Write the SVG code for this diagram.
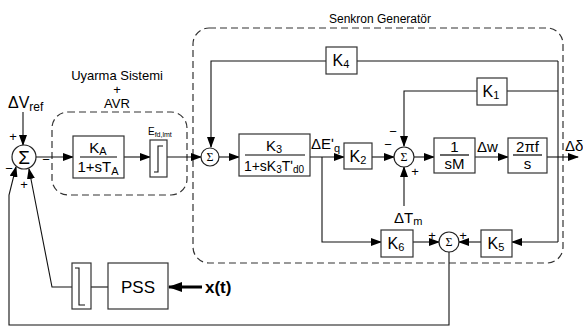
<svg xmlns="http://www.w3.org/2000/svg" width="583" height="327" viewBox="0 0 583 327">
<style>
text{font-family:"Liberation Sans",Arial,sans-serif;fill:#000}
.box{fill:#fff;stroke:#333;stroke-width:1.2}
.sum{fill:#fff;stroke:#222;stroke-width:1.2}
.ln{fill:none;stroke:#111;stroke-width:1.1}
.dash{fill:none;stroke:#333;stroke-width:1.2;stroke-dasharray:7,4}
.k{font-size:16px;text-anchor:middle}
.sg{font-size:13px;text-anchor:middle}
.sig{font-family:"Liberation Serif",serif;font-size:12px;text-anchor:middle}
</style>
<defs>
<marker id="ar" markerUnits="userSpaceOnUse" markerWidth="11" markerHeight="8" refX="10" refY="4" orient="auto">
<path d="M0,0 L11,4 L0,8 z" fill="#000"/>
</marker>
<marker id="arb" markerUnits="userSpaceOnUse" markerWidth="14" markerHeight="10" refX="13" refY="5" orient="auto">
<path d="M0,0 L14,5 L0,10 z" fill="#000"/>
</marker>
</defs>

<g id="groups">
<rect class="dash" x="52" y="112" width="135" height="83" rx="16"/>
<rect class="dash" x="193" y="28" width="370" height="235" rx="16"/>
<text x="117" y="80" font-size="13" text-anchor="middle">Uyarma Sistemi</text>
<text x="117" y="94" font-size="13" text-anchor="middle">+</text>
<text x="117" y="108" font-size="13" text-anchor="middle">AVR</text>
<text x="380" y="23" font-size="12" text-anchor="middle">Senkron Generatör</text>
</g>

<g id="connectors">
<line class="ln" x1="23" y1="112" x2="23" y2="145" marker-end="url(#ar)"/>
<line class="ln" x1="36" y1="157" x2="73" y2="157" marker-end="url(#ar)"/>
<line class="ln" x1="124" y1="157" x2="150" y2="157" marker-end="url(#ar)"/>
<line class="ln" x1="167" y1="157" x2="201" y2="157" marker-end="url(#ar)"/>
<line class="ln" x1="219" y1="157" x2="239" y2="157" marker-end="url(#ar)"/>
<line class="ln" x1="310" y1="157" x2="344" y2="157" marker-end="url(#ar)"/>
<line class="ln" x1="372" y1="157" x2="394" y2="157" marker-end="url(#ar)"/>
<line class="ln" x1="414" y1="157" x2="434" y2="157" marker-end="url(#ar)"/>
<line class="ln" x1="475" y1="157" x2="508" y2="157" marker-end="url(#ar)"/>
<line class="ln" x1="547" y1="157" x2="578" y2="157" marker-end="url(#ar)"/>
<line class="ln" x1="558" y1="61" x2="558" y2="242"/>
<line class="ln" x1="558" y1="61" x2="357" y2="61"/>
<polyline class="ln" points="326,61 211,61 211,147" marker-end="url(#ar)"/>
<line class="ln" x1="558" y1="91" x2="507" y2="91"/>
<polyline class="ln" points="477,91 404,91 404,146" marker-end="url(#ar)"/>
<line class="ln" x1="404" y1="206" x2="404" y2="167" marker-end="url(#ar)"/>
<polyline class="ln" points="322,157 322,242 381,242" marker-end="url(#ar)"/>
<line class="ln" x1="413" y1="242" x2="439" y2="242" marker-end="url(#ar)"/>
<line class="ln" x1="558" y1="242" x2="512" y2="242" marker-end="url(#ar)"/>
<line class="ln" x1="481" y1="242" x2="459" y2="242" marker-end="url(#ar)"/>
<polyline class="ln" points="449,252 449,325 9,325 9,195 16,167" marker-end="url(#ar)"/>
<polyline class="ln" points="72,287 52,287 29,169" marker-end="url(#ar)"/>
<line class="ln" x1="91" y1="287" x2="108" y2="287"/>
<line x1="202" y1="287" x2="169" y2="287" stroke="#000" stroke-width="3" marker-end="url(#arb)"/>
</g>

<g id="sum1">
<circle class="sum" cx="24" cy="157" r="12"/>
<text x="24" y="164" font-size="19" text-anchor="middle">Σ</text>
<text class="sg" x="13" y="141">+</text>
<text class="sg" x="46" y="164">−</text>
<text class="sg" x="9" y="173">−</text>
<text class="sg" x="24" y="189">+</text>
</g>
<g id="dvref">
<text x="8" y="108" font-size="16">ΔV<tspan font-size="12" dy="3">ref</tspan></text>
</g>

<g id="ka">
<rect class="box" x="73" y="136" width="51" height="42"/>
<line x1="80" y1="157" x2="117" y2="157" stroke="#000" stroke-width="1.2"/>
<text x="98" y="153" font-size="15" text-anchor="middle">K<tspan font-size="11" dy="2">A</tspan></text>
<text x="98" y="172" font-size="15" text-anchor="middle">1+sT<tspan font-size="11" dy="3">A</tspan></text>
</g>

<g id="lim1">
<rect class="box" x="150" y="140" width="17" height="37"/>
<path class="ln" d="M154,172 H158 V146 H163"/>
<text x="148" y="135" font-size="10">E<tspan font-size="7" dy="2">fd,lmt</tspan></text>
</g>

<g id="sum2">
<circle class="sum" cx="210" cy="157" r="9"/>
<text class="sig" x="210" y="161">Σ</text>
</g>

<g id="k3">
<rect class="box" x="239" y="134" width="71" height="42"/>
<line x1="245" y1="155" x2="305" y2="155" stroke="#000" stroke-width="1.2"/>
<text x="274" y="151" font-size="15" text-anchor="middle">K<tspan font-size="11" dy="2">3</tspan></text>
<text x="274" y="171" font-size="14" text-anchor="middle">1+sK<tspan font-size="10" dy="2">3</tspan><tspan dy="-2">Tʹ</tspan><tspan font-size="10" dy="2">d0</tspan></text>
<text x="311" y="149" font-size="15">ΔEʹ<tspan font-size="11" dy="3">q</tspan></text>
</g>

<g id="k2">
<rect class="box" x="344" y="143" width="28" height="26"/>
<text class="k" x="358" y="162">K<tspan font-size="11" dy="2">2</tspan></text>
</g>

<g id="sum4">
<circle class="sum" cx="404" cy="157" r="10"/>
<text class="sig" x="404" y="161">Σ</text>
<text class="sg" x="393" y="136">−</text>
<text class="sg" x="388" y="149">−</text>
<text class="sg" x="415" y="176">+</text>
<text x="394" y="223" font-size="15">ΔT<tspan font-size="11" dy="2">m</tspan></text>
</g>

<g id="sm">
<rect class="box" x="434" y="138" width="41" height="35"/>
<line x1="440" y1="155" x2="469" y2="155" stroke="#000" stroke-width="1.2"/>
<text x="454.5" y="152" font-size="15" text-anchor="middle">1</text>
<text x="454.5" y="169" font-size="15" text-anchor="middle">sM</text>
<text x="477" y="152" font-size="15">Δw</text>
</g>

<g id="integ">
<rect class="box" x="508" y="138" width="39" height="35"/>
<line x1="513" y1="155" x2="542" y2="155" stroke="#000" stroke-width="1.2"/>
<text x="527.5" y="152" font-size="15" text-anchor="middle">2πf</text>
<text x="527.5" y="169" font-size="15" text-anchor="middle">s</text>
<text x="565" y="151" font-size="15">Δδ</text>
</g>

<g id="k4">
<rect class="box" x="326" y="47" width="31" height="27"/>
<text class="k" x="341" y="66">K<tspan font-size="11" dy="2">4</tspan></text>
</g>

<g id="k1">
<rect class="box" x="477" y="78" width="30" height="27"/>
<text class="k" x="491" y="97">K<tspan font-size="11" dy="2">1</tspan></text>
</g>

<g id="k6">
<rect class="box" x="381" y="230" width="32" height="27"/>
<text class="k" x="396" y="249">K<tspan font-size="11" dy="2">6</tspan></text>
</g>

<g id="k5">
<rect class="box" x="481" y="230" width="31" height="27"/>
<text class="k" x="496" y="249">K<tspan font-size="11" dy="2">5</tspan></text>
</g>

<g id="sum3">
<circle class="sum" cx="449" cy="242" r="10"/>
<text class="sig" x="449" y="246">Σ</text>
<text class="sg" x="432" y="240">+</text>
<text class="sg" x="463" y="240">+</text>
</g>

<g id="lim2">
<rect class="box" x="72" y="263" width="19" height="46"/>
<path class="ln" d="M75,268 H79 V305 H85"/>
</g>

<g id="pss">
<rect class="box" x="108" y="263" width="60" height="46"/>
<text x="138" y="293" font-size="17" text-anchor="middle">PSS</text>
<text x="205" y="293" font-size="17" font-weight="bold">x(t)</text>
</g>
</svg>
